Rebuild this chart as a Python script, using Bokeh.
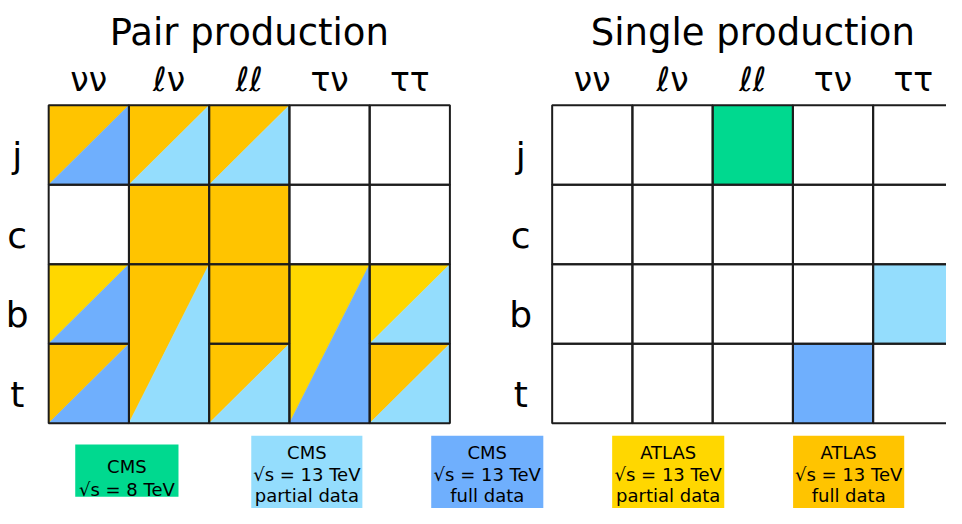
from bokeh.plotting import figure
from bokeh.models import Range1d, ColumnDataSource
from bokeh.embed import file_html
from bokeh.resources import INLINE
from bokeh.core.properties import value

# ---------------- data ----------------
final_states = ["νν", "ℓν", "ℓℓ", "τν", "ττ"]
quarks = ["j", "c", "b", "t"]

experiments = ["CMS8", "CMS13p", "CMS13f", "ATLASp", "ATLASf"]
exp_colors = ["#00D98F", "#94DDFD", "#6FAFFD", "#FFD700", "#FFC400"]
exp_lines = [
    ["CMS", "√s = 8 TeV"],
    ["CMS", "√s = 13 TeV", "partial data"],
    ["CMS", "√s = 13 TeV", "full data"],
    ["ATLAS", "√s = 13 TeV", "partial data"],
    ["ATLAS", "√s = 13 TeV", "full data"],
]

# pair production: upper-left triangle / lower-right triangle, row span
pair_quark = ["j", "j", "j", "c", "c", "b", "b", "b", "b", "b", "t", "t", "t"]
pair_state = ["νν", "ℓν", "ℓℓ", "ℓν", "ℓℓ", "νν", "ℓν", "ℓℓ", "τν", "ττ", "νν", "ℓℓ", "ττ"]
pair_span = [1, 1, 1, 1, 1, 1, 2, 1, 2, 1, 1, 1, 1]
pair_upper = ["ATLASf", "ATLASf", "ATLASf", "ATLASf", "ATLASf", "ATLASp", "ATLASf",
              "ATLASf", "ATLASp", "ATLASp", "ATLASf", "ATLASf", "ATLASf"]
pair_lower = ["CMS13f", "CMS13p", "CMS13p", "ATLASf", "ATLASf", "CMS13f", "CMS13p",
              "ATLASf", "CMS13f", "CMS13p", "CMS13f", "CMS13p", "CMS13p"]

# single production
single_quark = ["j", "b", "t"]
single_state = ["ℓℓ", "ττ", "τν"]
single_exp = ["CMS8", "CMS13p", "CMS13f"]

titles = ["Pair production", "Single production"]

# ---------------- layout (in reference-pixel units) ----------------
W, H = 946, 508
REF_W, REF_H = 962, 524
CELL_W, CELL_H = 81.6, 82.0
GRID_X0 = [49.0, 561.0]
GRID_Y0 = 108.0
FONT = value("DejaVu Sans")
LINE = "#1c1c1c"

leg_left = [76, 255, 438, 622, 806]
leg_right = [181, 368, 552, 736, 919]
leg_top = [458, 449, 449, 449, 449]
leg_bottom = [512, 530, 530, 530, 530]
leg_base = [[481, 504], [466, 489, 511], [466, 489, 511], [466, 489, 511], [466, 489, 511]]

color_of = dict(zip(experiments, exp_colors))

p = figure(width=W, height=H, x_range=Range1d(0, REF_W), y_range=Range1d(REF_H, 0),
           output_backend="svg", toolbar_location=None, min_border=0,
           x_axis_type=None, y_axis_type=None)
p.grid.visible = False
p.outline_line_color = None
p.background_fill_color = "white"


def cell_box(g, qi, si, span=1):
    x0 = GRID_X0[g] + si * CELL_W
    x1 = x0 + CELL_W
    y0 = GRID_Y0 + qi * CELL_H
    y1 = y0 + span * CELL_H
    return x0, x1, y0, y1


tri_xs, tri_ys, tri_c = [], [], []
sq = dict(left=[], right=[], top=[], bottom=[], color=[])
outline = dict(left=[], right=[], top=[], bottom=[])
covered = set()
for q, s, sp, up, lo in zip(pair_quark, pair_state, pair_span, pair_upper, pair_lower):
    qi, si = quarks.index(q), final_states.index(s)
    x0, x1, y0, y1 = cell_box(0, qi, si, sp)
    for k in range(sp):
        covered.add((qi + k, si))
    if up == lo:
        sq["left"].append(x0); sq["right"].append(x1)
        sq["top"].append(y0); sq["bottom"].append(y1)
        sq["color"].append(color_of[up])
    else:
        tri_xs.append([x0, x1, x0]); tri_ys.append([y0, y0, y1]); tri_c.append(color_of[up])
        tri_xs.append([x1, x1, x0]); tri_ys.append([y0, y1, y1]); tri_c.append(color_of[lo])
    outline["left"].append(x0); outline["right"].append(x1)
    outline["top"].append(y0); outline["bottom"].append(y1)

for qi in range(len(quarks)):
    for si in range(len(final_states)):
        if (qi, si) not in covered:
            x0, x1, y0, y1 = cell_box(0, qi, si)
            outline["left"].append(x0); outline["right"].append(x1)
            outline["top"].append(y0); outline["bottom"].append(y1)

for q, s, e in zip(single_quark, single_state, single_exp):
    x0, x1, y0, y1 = cell_box(1, quarks.index(q), final_states.index(s))
    sq["left"].append(x0); sq["right"].append(x1)
    sq["top"].append(y0); sq["bottom"].append(y1)
    sq["color"].append(color_of[e])

for qi in range(len(quarks)):
    for si in range(len(final_states)):
        x0, x1, y0, y1 = cell_box(1, qi, si)
        outline["left"].append(x0); outline["right"].append(x1)
        outline["top"].append(y0); outline["bottom"].append(y1)

p.patches(xs=tri_xs, ys=tri_ys, fill_color=tri_c, line_color=tri_c, line_width=0.5)
p.quad(source=ColumnDataSource(sq), left="left", right="right", top="top", bottom="bottom",
       fill_color="color", line_color=None)
p.quad(source=ColumnDataSource(outline), left="left", right="right", top="top", bottom="bottom",
       fill_color=None, line_color=LINE, line_width=2)

for g in range(2):
    cx = GRID_X0[g] + len(final_states) * CELL_W / 2
    p.text(x=[cx], y=[33], text=[titles[g]], text_font=FONT, text_font_size="37px",
           text_align="center", text_baseline="alphabetic", text_color="black")
    p.text(x=[GRID_X0[g] + (i + 0.5) * CELL_W for i in range(len(final_states))],
           y=[82] * len(final_states), text=final_states, text_font=FONT,
           text_font_size="33px", text_align="center", text_baseline="alphabetic",
           text_color="black")
    p.text(x=[GRID_X0[g] - 32] * len(quarks),
           y=[GRID_Y0 + (i + 0.5) * CELL_H + 11 for i in range(len(quarks))],
           text=quarks, text_font=FONT, text_font_size="36px", text_align="center",
           text_baseline="alphabetic", text_color="black")

p.quad(left=leg_left, right=leg_right, top=leg_top, bottom=leg_bottom,
       fill_color=exp_colors, line_color=None)
lx, ly, lt = [], [], []
for i, lines in enumerate(exp_lines):
    for line, b in zip(lines, leg_base[i]):
        lx.append((leg_left[i] + leg_right[i]) / 2)
        ly.append(b)
        lt.append(line)
p.text(x=lx, y=ly, text=lt, text_font=FONT, text_font_size="18px", text_align="center",
       text_baseline="alphabetic", text_color="black")

open("out.html", "w").write(file_html(p, INLINE))
